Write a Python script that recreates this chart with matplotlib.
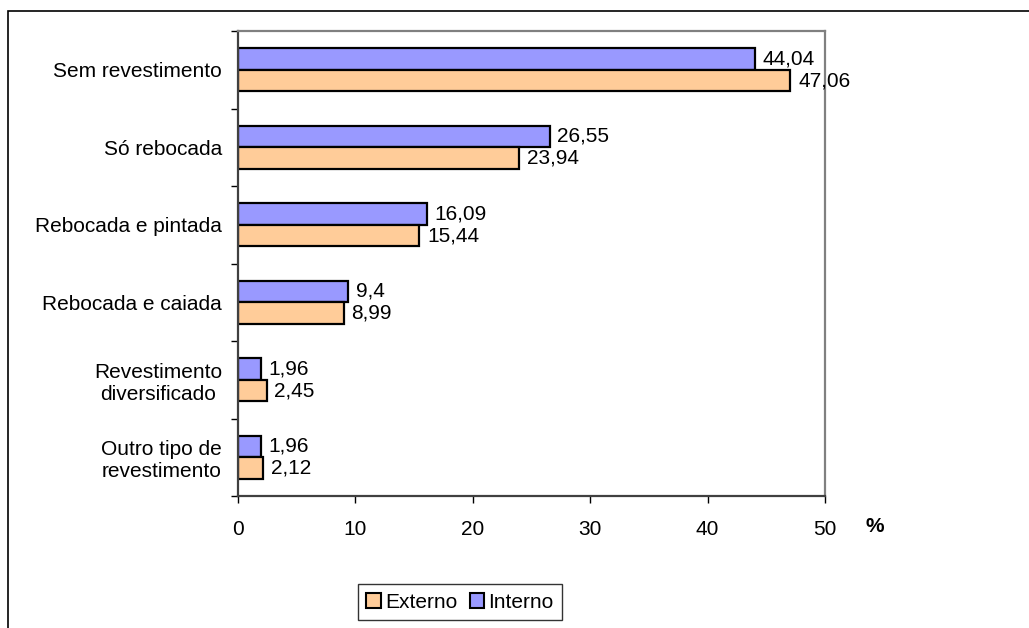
import numpy as np
import matplotlib
matplotlib.use('Agg')
import matplotlib.pyplot as plt
from matplotlib.patches import Rectangle, Patch

plt.rcParams['font.family'] = ['Liberation Sans', 'DejaVu Sans']

categories = ['Sem revestimento', 'Só rebocada', 'Rebocada e pintada',
              'Rebocada e caiada', 'Revestimento\ndiversificado',
              'Outro tipo de\nrevestimento']
interno = [44.04, 26.55, 16.09, 9.4, 1.96, 1.96]
externo = [47.06, 23.94, 15.44, 8.99, 2.45, 2.12]
interno_lbl = ['44,04', '26,55', '16,09', '9,4', '1,96', '1,96']
externo_lbl = ['47,06', '23,94', '15,44', '8,99', '2,45', '2,12']
xticks = [0, 10, 20, 30, 40, 50]

c_int = '#9999FF'
c_ext = '#FFCC99'
fs = 15

fig = plt.figure(figsize=(10.29, 6.28), dpi=100)
# outer chart frame (cut at right/bottom like the source)
fig.patches.append(Rectangle((8 / 1029, -0.1), 1.2, 1.1 - 11 / 628,
                             transform=fig.transFigure, fill=False,
                             edgecolor='black', lw=1.2))

ax = fig.add_axes([238 / 1029, 1 - 496 / 628, 587 / 1029, 465 / 628])
y = np.arange(len(categories))
h = 0.28
ax.barh(y - h / 2, interno, height=h, color=c_int, edgecolor='black', lw=1.6)
ax.barh(y + h / 2, externo, height=h, color=c_ext, edgecolor='black', lw=1.6)

for i in range(len(categories)):
    ax.text(interno[i] + 0.65, y[i] - h / 2, interno_lbl[i], va='center', ha='left', fontsize=fs)
    ax.text(externo[i] + 0.65, y[i] + h / 2, externo_lbl[i], va='center', ha='left', fontsize=fs)

ax.set_xlim(0, 50)
ax.set_ylim(len(categories) - 0.5, -0.5)
ax.set_xticks(xticks)
ax.set_xticklabels([str(v) for v in xticks], fontsize=fs)
ax.set_yticks(y)
ax.set_yticklabels(categories, fontsize=fs)
for lab in ax.get_yticklabels():
    lab.set_multialignment('center')
ax.set_yticks(np.arange(-0.5, len(categories)), minor=True)
ax.tick_params(axis='y', which='major', length=0, pad=11.5)
ax.tick_params(axis='y', which='minor', length=5, width=1, color='black', direction='out')
ax.tick_params(axis='x', length=5, width=1, color='black', direction='out', pad=12)

for s in ['top', 'right']:
    ax.spines[s].set_color('#808080')
    ax.spines[s].set_linewidth(1.6)
for s in ['left', 'bottom']:
    ax.spines[s].set_color('#404040')
    ax.spines[s].set_linewidth(1.6)

fig.text(875 / 1029, 1 - 526 / 628, '%', fontsize=fs, fontweight='bold', ha='center', va='center')

handles = [Patch(facecolor=c_ext, edgecolor='black', lw=1.5, label='Externo'),
           Patch(facecolor=c_int, edgecolor='black', lw=1.5, label='Interno')]
leg = fig.legend(handles=handles, loc='center', bbox_to_anchor=(460 / 1029, 1 - 602 / 628),
                 ncol=2, fontsize=fs, frameon=True, fancybox=False, handlelength=0.7,
                 handleheight=0.7, handletextpad=0.2, columnspacing=0.6,
                 borderpad=0.4, borderaxespad=0)
leg.get_frame().set_edgecolor('black')
leg.get_frame().set_linewidth(1)

fig.savefig('out.png', dpi=100)
